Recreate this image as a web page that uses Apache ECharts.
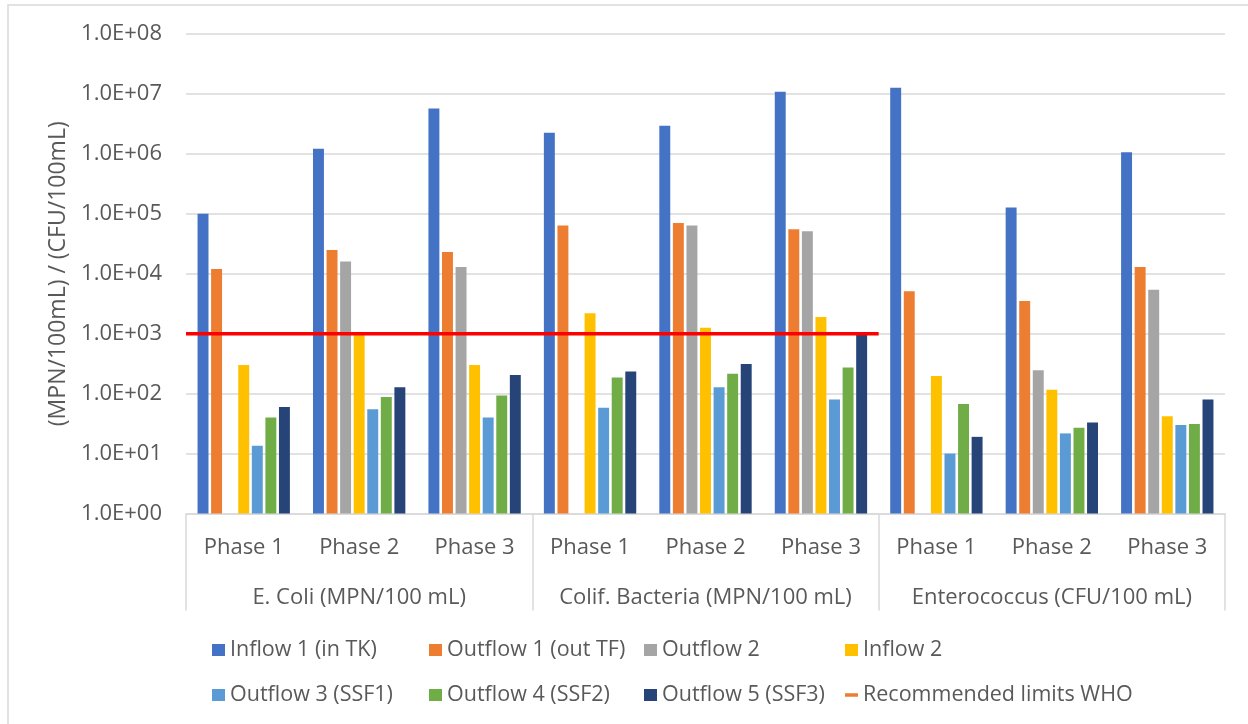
<!DOCTYPE html>
<html>
<head>
<meta charset="utf-8">
<script src="https://cdn.jsdelivr.net/npm/echarts@6/dist/echarts.min.js"></script>
<style>
html,body{margin:0;padding:0;background:#fff;}
#chart{width:1248px;height:724px;}
</style>
</head>
<body>
<div id="chart"></div>
<script>
// ---- data ----
const phases = ['Phase 1','Phase 2','Phase 3','Phase 1','Phase 2','Phase 3','Phase 1','Phase 2','Phase 3'];
const groups = ['E. Coli (MPN/100 mL)','Colif. Bacteria (MPN/100 mL)','Enterococcus (CFU/100 mL)'];
const seriesNames = ['Inflow 1 (in TK)','Outflow 1 (out TF)','Outflow 2','Inflow 2','Outflow 3 (SSF1)','Outflow 4 (SSF2)','Outflow 5 (SSF3)'];
const inflow1  = [1.0e5, 1.22e6, 5.7e6, 2.26e6, 2.96e6, 1.09e7, 1.27e7, 1.28e5, 1.06e6];
const outflow1 = [1.2e4, 2.5e4, 2.3e4, 6.4e4, 7.0e4, 5.5e4, 5.1e3, 3.5e3, 1.3e4];
const outflow2 = [null, 1.6e4, 1.3e4, null, 6.4e4, 5.1e4, null, 245, 5.4e3];
const inflow2  = [300, 1000, 300, 2200, 1260, 1900, 196, 116, 42];
const outflow3 = [13.5, 55, 40, 58, 128, 80, 10, 21.7, 30];
const outflow4 = [40, 88, 93, 186, 214, 274, 67, 27, 31];
const outflow5 = [60, 128, 204, 235, 311, 1030, 19, 33, 80];
const whoName = 'Recommended limits WHO';
const whoLimit = 1000;
const whoSpan = [0, 6];   // from first category edge to end of 6th category
const yTickLabels = ['1.0E+00','1.0E+01','1.0E+02','1.0E+03','1.0E+04','1.0E+05','1.0E+06','1.0E+07','1.0E+08'];

const values = [inflow1, outflow1, outflow2, inflow2, outflow3, outflow4, outflow5];
const colors = ['#4472C4','#ED7D31','#A5A5A5','#FFC000','#5B9BD5','#70AD47','#264478'];

const FONT = 'Open Sans';
const TXT = '#595959';
const GRID = '#D9D9D9';

const chart = echarts.init(document.getElementById('chart'));

const barSeries = seriesNames.map((n, i) => ({
  name: n,
  type: 'bar',
  xAxisIndex: 0,
  yAxisIndex: 0,
  data: values[i].map(v => v === null ? '-' : v),
  itemStyle: { color: colors[i] },
  barGap: '24%',
  barCategoryGap: '20%'
}));

const legendCols = [
  [seriesNames[0], seriesNames[4]],
  [seriesNames[1], seriesNames[5]],
  [seriesNames[2], seriesNames[6]],
  [seriesNames[3], whoName]
];
const legendLeft = [207, 424, 639, 840];

const legends = legendCols.map((col, ci) => ({
  orient: 'vertical',
  left: legendLeft[ci],
  top: 634,
  itemGap: 23,
  itemWidth: 13,
  itemHeight: 12,
  textStyle: { fontFamily: FONT, fontSize: 21.5, color: TXT },
  data: col.map(n => n === whoName
    ? { name: n, icon: 'path://M0,0 L13,0 L13,3.5 L0,3.5 Z', itemStyle: { color: '#ED7D31' } }
    : { name: n, icon: 'rect' })
}));

const option = {
  backgroundColor: '#fff',
  animation: false,
  graphic: [{
    type: 'rect',
    shape: { x: 8, y: 5, width: 1400, height: 900 },
    style: { fill: 'none', stroke: GRID, lineWidth: 1.5 },
    silent: true,
    z: -10
  }],
  grid: { left: 186, right: 23, top: 34, bottom: 210.5, containLabel: false },
  legend: legends,
  xAxis: [
    {
      type: 'category',
      position: 'bottom',
      data: phases,
      axisLine: { show: true, lineStyle: { color: GRID, width: 1.5 } },
      axisTick: { show: false },
      axisLabel: { margin: 23, fontFamily: FONT, fontSize: 22, color: TXT, interval: 0 }
    },
    {
      type: 'category',
      position: 'bottom',
      data: groups,
      axisLine: { show: false },
      axisTick: { show: true, length: 97, lineStyle: { color: GRID, width: 1.5 } },
      axisLabel: { margin: 73, fontFamily: FONT, fontSize: 22, color: TXT, interval: 0 }
    },
    {
      type: 'value',
      position: 'top',
      min: 0,
      max: phases.length,
      show: false
    }
  ],
  yAxis: [{
    type: 'log',
    logBase: 10,
    min: 1,
    max: 1e8,
    splitNumber: 8,
    name: '(MPN/100mL) / (CFU/100mL)',
    nameLocation: 'middle',
    nameRotate: 90,
    nameGap: 116,
    nameTextStyle: { fontFamily: FONT, fontSize: 23, color: TXT },
    axisLine: { show: false },
    axisTick: { show: false },
    splitLine: { show: true, lineStyle: { color: GRID, width: 1.5 } },
    axisLabel: {
      margin: 24,
      fontFamily: FONT, fontSize: 22, color: TXT,
      formatter: function (v) {
        const e = Math.round(Math.log10(v));
        return yTickLabels[e] !== undefined ? yTickLabels[e] : String(v);
      }
    }
  }],
  series: barSeries.concat([{
    name: whoName,
    type: 'line',
    xAxisIndex: 2,
    yAxisIndex: 0,
    data: [[whoSpan[0], whoLimit], [whoSpan[1], whoLimit]],
    symbol: 'none',
    itemStyle: { color: '#ED7D31' },
    lineStyle: { color: '#FF0000', width: 3.5 },
    z: 10
  }])
};

chart.setOption(option);
</script>
</body>
</html>
